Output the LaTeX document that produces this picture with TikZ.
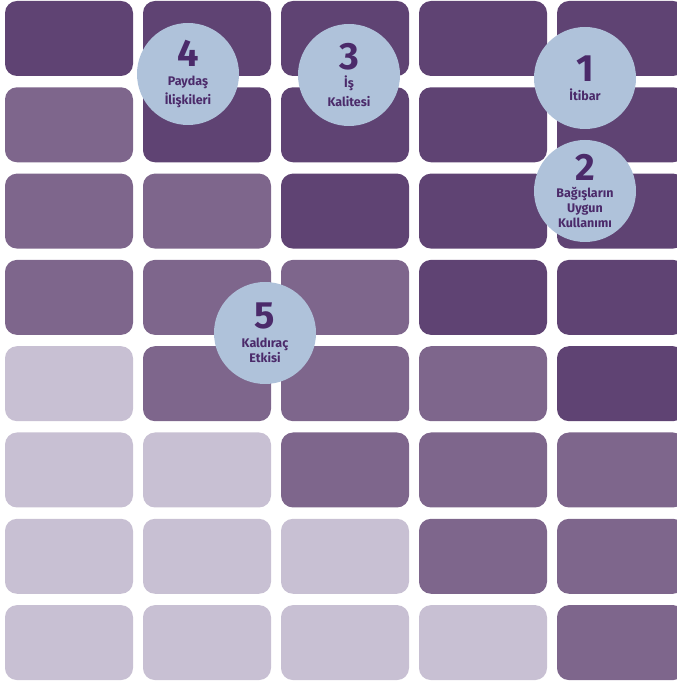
\documentclass[tikz,border=0pt]{standalone}
\usepackage{fontspec}
\setmainfont{Fira Sans}
\usepackage{xcolor}
\definecolor{darkplum}{HTML}{5F4373}
\definecolor{midplum}{HTML}{7E668C}
\definecolor{paleplum}{HTML}{C8C0D3}
\definecolor{badge}{HTML}{AFC2DA}
\definecolor{badgetext}{HTML}{4B2A6A}
\newcommand{\bignum}[1]{{\fontsize{38}{38}\selectfont #1}}

\begin{document}
\begin{tikzpicture}[x=1pt, y=1pt,
  cell/.style={rounded corners=12pt},
  badge/.style={circle, fill=badge, minimum size=102pt, inner sep=0pt, align=center,
    text=badgetext, font=\fontsize{12.5}{15}\selectfont\bfseries}
]
\clip (0,0) rectangle (677,683);
% grid of cells, shade depends on row and column
\foreach \r in {0,...,7}{
  \foreach \c in {0,...,4}{
    \pgfmathtruncatemacro{\lo}{\r-3}
    \ifnum\c<\r
      \ifnum\c<\lo \def\shade{paleplum}\else \def\shade{midplum}\fi
    \else \def\shade{darkplum}\fi
    \fill[cell, \shade] ({5+138*\c},{682-86.3*\r}) rectangle ++(128,-75);
  }
}
\node[badge] (c1) at (585,605) {\bignum{1}\\[4pt]İtibar};
\node[badge] (c2) at (585,492) {\bignum{2}\\[3pt]Bağışların\\Uygun\\Kullanımı};
\node[badge] (c3) at (349,608) {\bignum{3}\\[3pt]İş\\[4pt]Kalitesi};
\node[badge] (c4) at (188,609) {\bignum{4}\\[4pt]Paydaş\\[4pt]İlişkileri};
\node[badge] (c5) at (265,350) {\bignum{5}\\[4pt]Kaldıraç\\Etkisi};
\end{tikzpicture}
\end{document}
